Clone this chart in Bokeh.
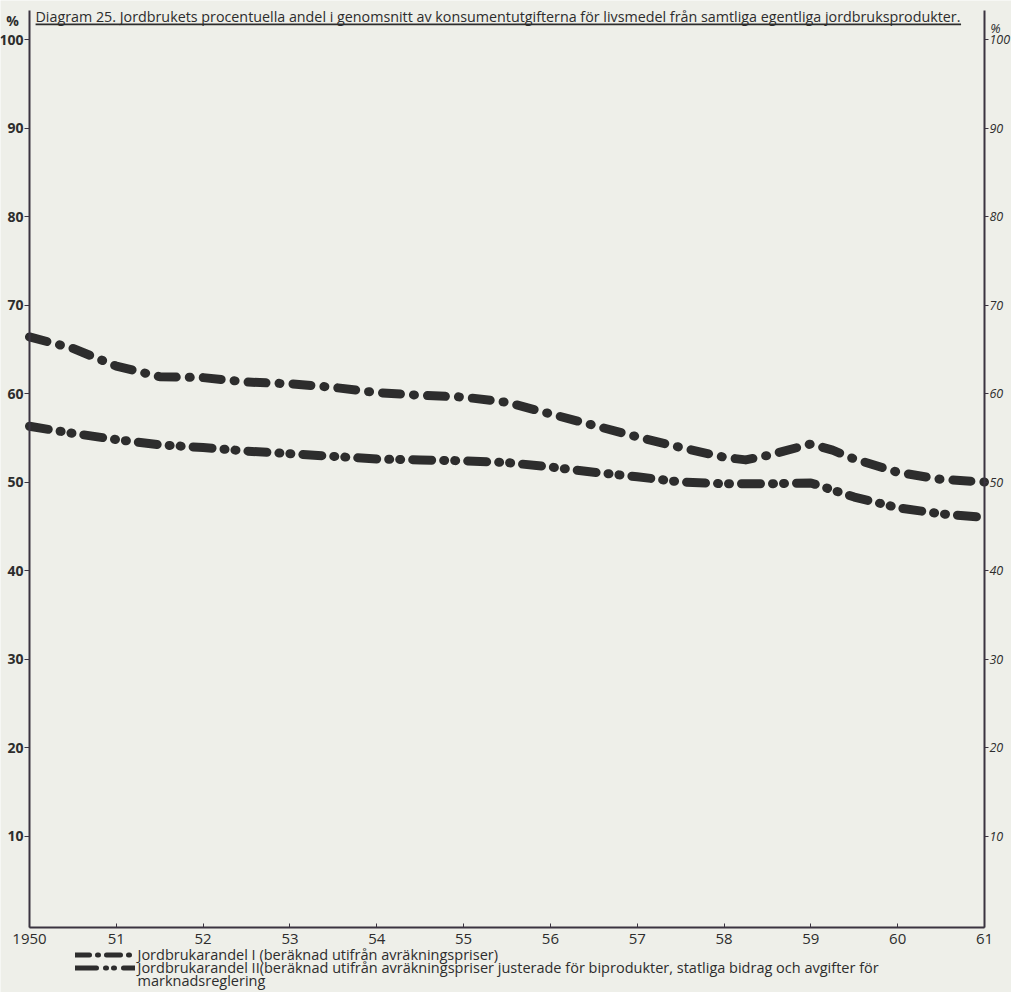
from bokeh.plotting import figure
from bokeh.models import (Range1d, FixedTicker, LinearAxis, Label, Legend,
                          LegendItem, BoxAnnotation)
from bokeh.embed import file_html
from bokeh.resources import INLINE

# ---- data ----
years_i = [1950.0, 1950.5, 1951.0, 1951.5, 1952.0, 1952.5, 1953.0, 1953.5,
           1954.0, 1954.5, 1955.0, 1955.5, 1956.0, 1956.5, 1957.0, 1957.5,
           1958.0, 1958.25, 1958.5, 1959.0, 1959.25, 1959.5, 1960.0, 1960.5,
           1961.0]
andel_i = [66.4, 65.1, 63.1, 61.9, 61.8, 61.3, 61.1, 60.7,
           60.1, 59.8, 59.6, 59.0, 57.7, 56.4, 55.1, 53.9,
           52.8, 52.5, 53.0, 54.3, 53.6, 52.6, 51.1, 50.3,
           50.0]

years_ii = [1950.0, 1950.5, 1951.0, 1951.5, 1952.0, 1952.5, 1953.0, 1953.5,
            1954.0, 1954.5, 1955.0, 1955.5, 1956.0, 1956.5, 1957.0, 1957.5,
            1958.0, 1958.5, 1959.0, 1959.5, 1960.0, 1960.5, 1961.0]
andel_ii = [56.3, 55.5, 54.8, 54.2, 53.9, 53.5, 53.2, 52.9,
            52.6, 52.5, 52.4, 52.2, 51.7, 51.1, 50.6, 50.0,
            49.8, 49.8, 49.9, 48.3, 47.1, 46.4, 46.0]

x_ticks = list(range(1950, 1962))
x_tick_labels = ["1950", "51", "52", "53", "54", "55", "56", "57", "58",
                 "59", "60", "61"]
y_ticks = [10, 20, 30, 40, 50, 60, 70, 80, 90, 100]

title_text = ("Diagram 25. Jordbrukets procentuella andel i genomsnitt av "
              "konsumentutgifterna för livsmedel från samtliga egentliga "
              "jordbruksprodukter.")
legend_texts = [
    "Jordbrukarandel I (beräknad utifrån avräkningspriser)",
    "Jordbrukarandel II(beräknad utifrån avräkningspriser justerade för "
    "biprodukter, statliga bidrag och avgifter för",
    "marknadsreglering",
]

PAPER = "#eeefe9"
INK = "#2d2d2d"
AXIS = "#3a3440"
FONT = "Open Sans"

# ranges chosen so the frame fills the whole canvas; the axes are pinned
X0, X1 = 1949.666, 1961.311
Y0, Y1 = -7.68, 104.41
YB0, YB1 = -0.34, 103.28     # extent of the drawn vertical scales

p = figure(width=1011, height=992, output_backend="svg", toolbar_location=None,
           x_range=Range1d(X0, X1), y_range=Range1d(Y0, Y1),
           background_fill_color=PAPER, border_fill_color=PAPER,
           min_border=0)
p.outline_line_color = None
p.grid.visible = False

r1 = p.line(years_i, andel_i, line_width=9, line_color=INK,
            line_dash="18 13 1 13", line_cap="round", line_join="round")
r2 = p.line(years_ii, andel_ii, line_width=9, line_color=INK,
            line_dash="19 12 1 10 1 12", line_cap="round",
            line_join="round")

# thinner, hidden copies used only for the key samples
lg1 = p.line(years_i, andel_i, line_width=5, line_color=INK,
             line_dash="14 8 1 8", line_cap="round", visible=False)
lg2 = p.line(years_ii, andel_ii, line_width=5, line_color=INK,
             line_dash="21 9 1 7 1 9", line_cap="round", visible=False)

# bottom axis
xa = p.xaxis[0]
xa.fixed_location = YB0
xa.bounds = (x_ticks[0], x_ticks[-1])
xa.ticker = FixedTicker(ticks=x_ticks)
xa.major_label_overrides = {t: s for t, s in zip(x_ticks, x_tick_labels)}
xa.major_tick_in = 4
xa.major_tick_out = 0
xa.minor_tick_line_color = None
xa.axis_line_width = 2
xa.axis_line_color = AXIS
xa.major_tick_line_color = AXIS
xa.major_label_text_font = FONT
xa.major_label_text_font_size = "15px"
xa.major_label_text_color = INK
xa.major_label_standoff = 6

# left axis
ya = p.yaxis[0]
ya.fixed_location = x_ticks[0]
ya.bounds = (YB0, YB1)
ya.ticker = FixedTicker(ticks=y_ticks)
ya.major_tick_in = 0
ya.major_tick_out = 5
ya.minor_tick_line_color = None
ya.axis_line_width = 2
ya.axis_line_color = AXIS
ya.major_tick_line_color = AXIS
ya.major_label_text_font = FONT
ya.major_label_text_font_size = "14px"
ya.major_label_text_font_style = "bold"
ya.major_label_text_color = INK
ya.major_label_standoff = 1

# right axis
ra = LinearAxis(ticker=FixedTicker(ticks=y_ticks))
ra.fixed_location = x_ticks[-1]
ra.bounds = (YB0, YB1)
ra.major_tick_in = 0
ra.major_tick_out = 4
ra.minor_tick_line_color = None
ra.axis_line_width = 2
ra.axis_line_color = AXIS
ra.major_tick_line_color = AXIS
ra.major_label_text_font = FONT
ra.major_label_text_font_size = "12.5px"
ra.major_label_text_font_style = "italic"
ra.major_label_text_color = INK
ra.major_label_standoff = 1
p.add_layout(ra, "right")

# title, underlined
p.add_layout(Label(x=x_ticks[0], y=100, x_offset=6, y_offset=33,
                   text=title_text, text_font=FONT, text_font_size="14.3px",
                   text_color=INK, text_baseline="top", text_align="left"))
p.add_layout(BoxAnnotation(left=1950.07, right=1960.73, top=101.8,
                           bottom=101.62, fill_color=INK, fill_alpha=1,
                           line_color=None))

# "%" marks above the scales
p.add_layout(Label(x=x_ticks[0], y=100, x_offset=-17, y_offset=19, text="%",
                   text_font=FONT, text_font_size="14px", text_color=INK,
                   text_font_style="bold", text_baseline="middle",
                   text_align="center"))
p.add_layout(Label(x=x_ticks[-1], y=100, x_offset=11, y_offset=12, text="%",
                   text_font=FONT, text_font_size="13px", text_color=INK,
                   text_font_style="italic", text_baseline="middle",
                   text_align="center"))

# key: samples from the legend, texts as labels
legend = Legend(items=[LegendItem(label=" ", renderers=[lg1]),
                       LegendItem(label=" ", renderers=[lg2])],
                location=(75, 18), orientation="vertical",
                glyph_width=60, glyph_height=13, label_height=13,
                label_standoff=0, label_width=1, spacing=0, padding=0,
                margin=0, border_line_color=None, background_fill_alpha=0,
                inactive_fill_alpha=0,
                label_text_font=FONT, label_text_font_size="1px",
                label_text_color=INK)
p.add_layout(legend)

for txt, dy in zip(legend_texts, [-27, -40, -53]):
    p.add_layout(Label(x=x_ticks[0], y=YB0, x_offset=108, y_offset=dy,
                       text=txt, text_font=FONT, text_font_size="14.5px",
                       text_color=INK, text_baseline="middle",
                       text_align="left"))

open("out.html", "w").write(file_html(p, INLINE))
